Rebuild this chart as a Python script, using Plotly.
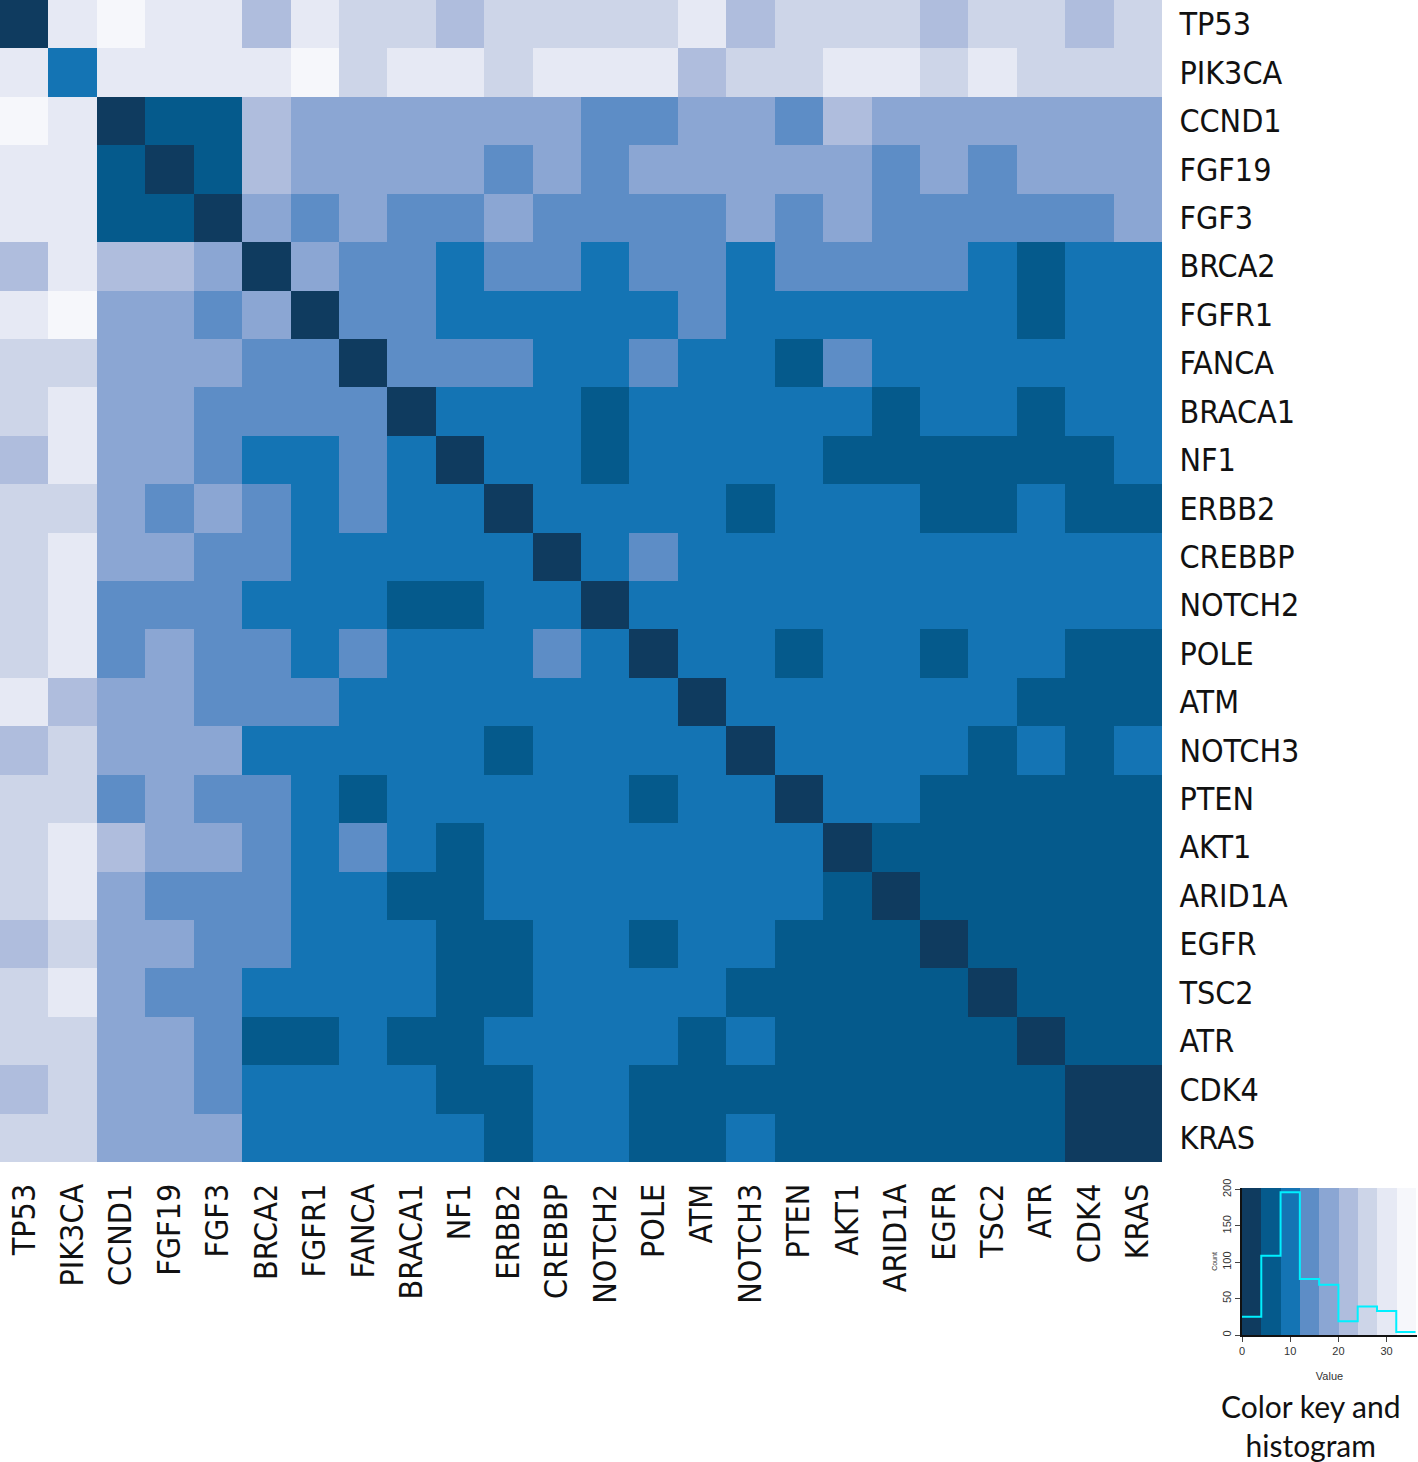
import plotly.graph_objects as go

genes = ["TP53", "PIK3CA", "CCND1", "FGF19", "FGF3", "BRCA2", "FGFR1", "FANCA",
         "BRACA1", "NF1", "ERBB2", "CREBBP", "NOTCH2", "POLE", "ATM", "NOTCH3",
         "PTEN", "AKT1", "ARID1A", "EGFR", "TSC2", "ATR", "CDK4", "KRAS"]

# estimated distance values (read as colour-key bins, bin centres)
dist_values = [
    [2, 30, 34, 30, 30, 22, 30, 26, 26, 22, 26, 26, 26, 26, 30, 22, 26, 26, 26, 22, 26, 26, 22, 26],
    [30, 10, 30, 30, 30, 30, 34, 26, 30, 30, 26, 30, 30, 30, 22, 26, 26, 30, 30, 26, 30, 26, 26, 26],
    [34, 30, 2, 6, 6, 22, 18, 18, 18, 18, 18, 18, 14, 14, 18, 18, 14, 22, 18, 18, 18, 18, 18, 18],
    [30, 30, 6, 2, 6, 22, 18, 18, 18, 18, 14, 18, 14, 18, 18, 18, 18, 18, 14, 18, 14, 18, 18, 18],
    [30, 30, 6, 6, 2, 18, 14, 18, 14, 14, 18, 14, 14, 14, 14, 18, 14, 18, 14, 14, 14, 14, 14, 18],
    [22, 30, 22, 22, 18, 2, 18, 14, 14, 10, 14, 14, 10, 14, 14, 10, 14, 14, 14, 14, 10, 6, 10, 10],
    [30, 34, 18, 18, 14, 18, 2, 14, 14, 10, 10, 10, 10, 10, 14, 10, 10, 10, 10, 10, 10, 6, 10, 10],
    [26, 26, 18, 18, 18, 14, 14, 2, 14, 14, 14, 10, 10, 14, 10, 10, 6, 14, 10, 10, 10, 10, 10, 10],
    [26, 30, 18, 18, 14, 14, 14, 14, 2, 10, 10, 10, 6, 10, 10, 10, 10, 10, 6, 10, 10, 6, 10, 10],
    [22, 30, 18, 18, 14, 10, 10, 14, 10, 2, 10, 10, 6, 10, 10, 10, 10, 6, 6, 6, 6, 6, 6, 10],
    [26, 26, 18, 14, 18, 14, 10, 14, 10, 10, 2, 10, 10, 10, 10, 6, 10, 10, 10, 6, 6, 10, 6, 6],
    [26, 30, 18, 18, 14, 14, 10, 10, 10, 10, 10, 2, 10, 14, 10, 10, 10, 10, 10, 10, 10, 10, 10, 10],
    [26, 30, 14, 14, 14, 10, 10, 10, 6, 6, 10, 10, 2, 10, 10, 10, 10, 10, 10, 10, 10, 10, 10, 10],
    [26, 30, 14, 18, 14, 14, 10, 14, 10, 10, 10, 14, 10, 2, 10, 10, 6, 10, 10, 6, 10, 10, 6, 6],
    [30, 22, 18, 18, 14, 14, 14, 10, 10, 10, 10, 10, 10, 10, 2, 10, 10, 10, 10, 10, 10, 6, 6, 6],
    [22, 26, 18, 18, 18, 10, 10, 10, 10, 10, 6, 10, 10, 10, 10, 2, 10, 10, 10, 10, 6, 10, 6, 10],
    [26, 26, 14, 18, 14, 14, 10, 6, 10, 10, 10, 10, 10, 6, 10, 10, 2, 10, 10, 6, 6, 6, 6, 6],
    [26, 30, 22, 18, 18, 14, 10, 14, 10, 6, 10, 10, 10, 10, 10, 10, 10, 2, 6, 6, 6, 6, 6, 6],
    [26, 30, 18, 14, 14, 14, 10, 10, 6, 6, 10, 10, 10, 10, 10, 10, 10, 6, 2, 6, 6, 6, 6, 6],
    [22, 26, 18, 18, 14, 14, 10, 10, 10, 6, 6, 10, 10, 6, 10, 10, 6, 6, 6, 2, 6, 6, 6, 6],
    [26, 30, 18, 14, 14, 10, 10, 10, 10, 6, 6, 10, 10, 10, 10, 6, 6, 6, 6, 6, 2, 6, 6, 6],
    [26, 26, 18, 18, 14, 6, 6, 10, 6, 6, 10, 10, 10, 10, 6, 10, 6, 6, 6, 6, 6, 2, 6, 6],
    [22, 26, 18, 18, 14, 10, 10, 10, 10, 6, 6, 10, 10, 6, 6, 6, 6, 6, 6, 6, 6, 6, 2, 2],
    [26, 26, 18, 18, 18, 10, 10, 10, 10, 10, 6, 10, 10, 6, 6, 10, 6, 6, 6, 6, 6, 6, 2, 2],
]

# colour key bins and histogram counts
bin_edges = [0, 4, 8, 12, 16, 20, 24, 28, 32, 36]
hist_counts = [25, 109, 196, 77, 69, 19, 39, 33, 4]
key_ticks = [0, 10, 20, 30]
count_ticks = [0, 50, 100, 150, 200]

bin_colors = ["#0f3b5f", "#055a8c", "#1474b4", "#5d8dc6", "#8ba6d3",
              "#afbddd", "#cdd5e8", "#e6e9f4", "#f6f7fb"]

W, H = 1418, 1462
zmin, zmax = bin_edges[0], bin_edges[-1]
nb = len(bin_colors)
cscale = []
for i, c in enumerate(bin_colors):
    cscale.append([i / nb, c])
    cscale.append([(i + 1) / nb, c])

label_font = dict(family="Liberation Sans Narrow, DejaVu Sans Condensed, Arial Narrow, sans-serif",
                  size=32, color="#111")

fig = go.Figure()
n = len(genes)
fig.add_trace(go.Heatmap(
    z=dist_values, x=list(range(n)), y=list(range(n)),
    colorscale=cscale, zmin=zmin, zmax=zmax, showscale=False,
    hovertemplate="%{customdata}<extra></extra>",
    customdata=[[f"{genes[r]} / {genes[c]}: {dist_values[r][c]}" for c in range(n)] for r in range(n)],
    xaxis="x", yaxis="y"))

# colour key bands
centers = [(bin_edges[i] + bin_edges[i + 1]) / 2 for i in range(nb)]
fig.add_trace(go.Heatmap(
    z=[centers], x=bin_edges, y=[0, 202],
    colorscale=cscale, zmin=zmin, zmax=zmax, showscale=False,
    hoverinfo="skip", xaxis="x2", yaxis="y2"))
fig.add_trace(go.Scatter(
    x=bin_edges, y=hist_counts + [hist_counts[-1]], mode="lines",
    line=dict(shape="hv", color="#00f0ff", width=2),
    xaxis="x2", yaxis="y2", hoverinfo="skip", showlegend=False))

hm_px = 1162
small = dict(family="Liberation Sans, Arial", size=11, color="#333")
fig.update_layout(
    width=W, height=H, margin=dict(l=0, r=0, t=0, b=0, autoexpand=False),
    paper_bgcolor="white", plot_bgcolor="white", showlegend=False,
    xaxis=dict(domain=[0, hm_px / W], range=[-0.5, n - 0.5],
               tickvals=list(range(n)), ticktext=genes, tickangle=-90,
               ticks="outside", ticklen=8, tickcolor="rgba(0,0,0,0)",
               showgrid=False, zeroline=False, showline=False, automargin=False,
               tickfont=label_font, anchor="y", fixedrange=True),
    yaxis=dict(domain=[1 - hm_px / H, 1], range=[n - 0.5, -0.5],
               tickvals=list(range(n)), ticktext=genes, side="right",
               ticks="outside", ticklen=10, tickcolor="rgba(0,0,0,0)",
               showgrid=False, zeroline=False, showline=False, automargin=False,
               tickfont=label_font, anchor="x", fixedrange=True),
    xaxis2=dict(domain=[1242 / W, 1417 / W], range=[0, 36.3], anchor="y2",
                tickvals=key_ticks, ticks="outside", ticklen=5,
                showline=True, linecolor="#111", linewidth=1.5,
                showgrid=False, zeroline=False, automargin=False,
                tickfont=small,
                title=dict(text="Value", font=small, standoff=16)),
    yaxis2=dict(domain=[1 - 1335 / H, 1 - 1188 / H], range=[0, 202], anchor="x2",
                tickvals=count_ticks, ticks="outside", ticklen=5, tickangle=-90,
                showline=True, linecolor="#111", linewidth=1.5,
                showgrid=False, zeroline=False, automargin=False,
                tickfont=small,
                title=dict(text="Count", font=dict(family="Liberation Sans, Arial", size=7, color="#333"),
                           standoff=2)),
    annotations=[dict(text="Color key and<br>histogram", x=1311 / W, y=1 - 1425 / H,
                      xref="paper", yref="paper", showarrow=False,
                      xanchor="center", yanchor="middle",
                      font=dict(family="Lato, Open Sans, sans-serif", size=30, color="#111"))],
)

fig.write_html("out.html", config={"displayModeBar": False},
               post_script="document.body.style.margin='0';document.body.style.padding='0';")
